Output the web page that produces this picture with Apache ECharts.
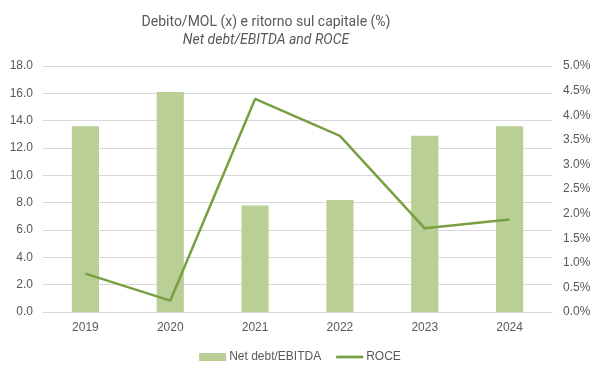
<!DOCTYPE html>
<html><head><meta charset="utf-8">
<script src="https://cdn.jsdelivr.net/npm/echarts@6/dist/echarts.min.js"></script>
<style>html,body{margin:0;padding:0;background:#fff}#c{width:600px;height:378px}</style>
</head><body><div id="c"></div>
<script>
const categories = ['2019','2020','2021','2022','2023','2024'];
const netDebtEbitda = [13.6, 16.1, 7.8, 8.2, 12.9, 13.6];
const roce = [0.78, 0.23, 4.33, 3.58, 1.70, 1.88];
const leftTicks = {min: 0, max: 18, interval: 2};
const rightTicks = {min: 0, max: 5, interval: 0.5};

const chart = echarts.init(document.getElementById('c'));
const lbl = {color:'#595959', fontFamily:'Liberation Sans, Arial', fontSize:12};
const tfont = "Roboto, 'Liberation Sans', sans-serif";
chart.setOption({
  animation:false,
  title:{
    text:'Debito/MOL (x) e ritorno sul capitale (%)',
    subtext:'Net debt/EBITDA and ROCE',
    left:261, top:10, textAlign:'center', itemGap:4,
    textStyle:{color:'#595959', fontFamily:tfont, fontSize:14, fontWeight:'normal'},
    subtextStyle:{color:'#595959', fontFamily:tfont, fontSize:14, fontStyle:'italic'}
  },
  grid:{left:43, right:48, top:66, bottom:66, containLabel:false},
  legend:{
    bottom:10, left:'center', itemGap:15, itemWidth:27, itemHeight:8,
    textStyle:{color:'#595959', fontFamily:'Liberation Sans, Arial', fontSize:12, padding:[0,0,0,-2]},
    data:[{name:'Net debt/EBITDA', icon:'rect'},{name:'ROCE', icon:'path://M0,0 L10,0 L10,1 L0,1 Z'}]
  },
  xAxis:{type:'category', data:categories,
    axisLine:{lineStyle:{color:'#d9d9d9'}}, axisTick:{show:false},
    axisLabel:Object.assign({margin:10}, lbl)},
  yAxis:[
    {type:'value', min:leftTicks.min, max:leftTicks.max, interval:leftTicks.interval,
     axisLabel:Object.assign({formatter:v=>v.toFixed(1), margin:10}, lbl),
     splitLine:{lineStyle:{color:'#d9d9d9', width:1}}, axisLine:{show:false}, axisTick:{show:false}},
    {type:'value', min:rightTicks.min, max:rightTicks.max, interval:rightTicks.interval,
     axisLabel:Object.assign({formatter:v=>v.toFixed(1)+'%', margin:11}, lbl),
     splitLine:{show:false}, axisLine:{show:false}, axisTick:{show:false}}
  ],
  series:[
    {name:'Net debt/EBITDA', type:'bar', data:netDebtEbitda, barWidth:'32%',
     itemStyle:{color:'#b9cf96'}},
    {name:'ROCE', type:'line', yAxisIndex:1, data:roce, symbol:'none',
     lineStyle:{color:'#78a043', width:2.5}, itemStyle:{color:'#78a043'}}
  ]
});
</script></body></html>
